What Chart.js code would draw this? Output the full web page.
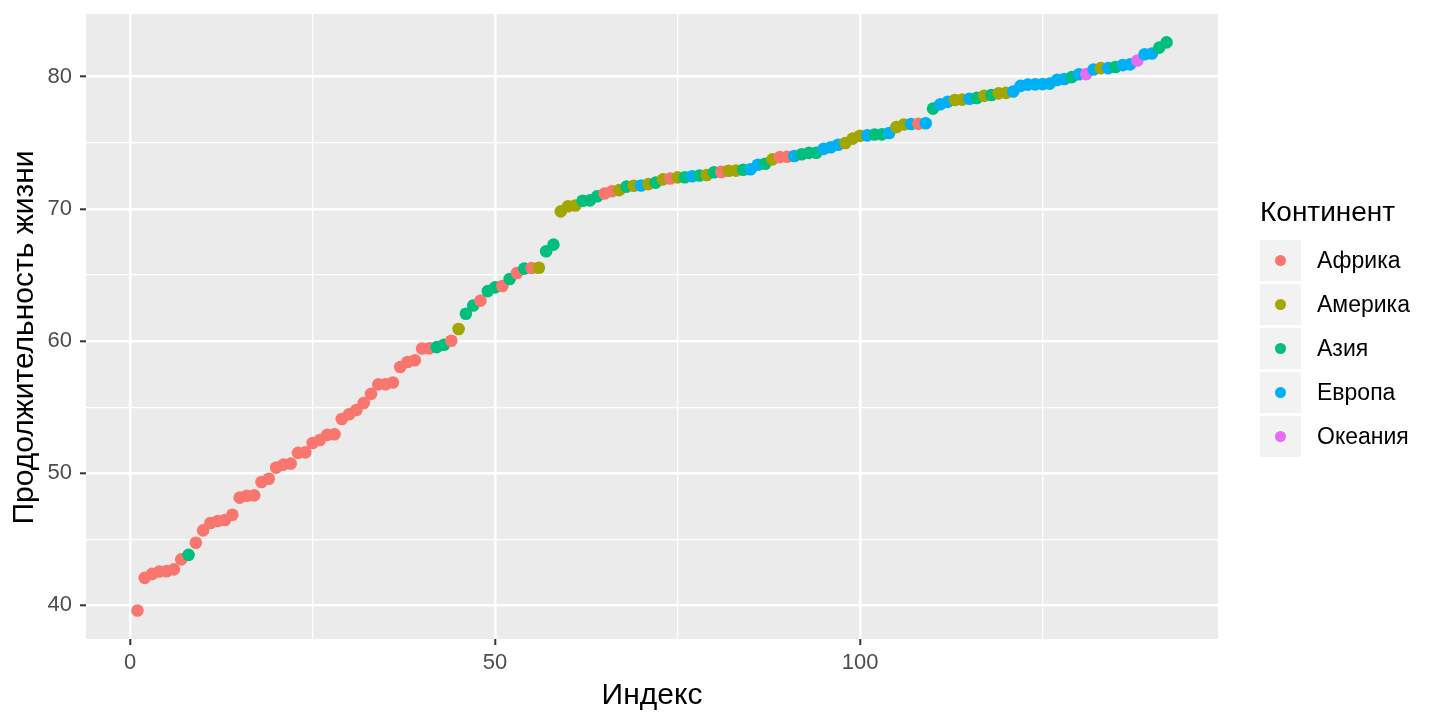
<!DOCTYPE html>
<html>
<head>
<meta charset="utf-8">
<script src="https://cdn.jsdelivr.net/npm/chart.js@4.4.0/dist/chart.umd.min.js"></script>
<style>
  body { margin: 0; background: #fff; font-family: "Liberation Sans", Arial, sans-serif; }
  #wrap { position: relative; width: 1440px; height: 720px; }
  #legend { position: absolute; left: 1260px; top: 192px; }
  #legend .title { font-size: 28px; color: #000; height: 46px; line-height: 40px; }
  #legend .item { display: flex; align-items: center; height: 44px; }
  #legend .key { width: 41px; height: 41px; background: #F2F2F2; display: flex; align-items: center; justify-content: center; margin-right: 16px; }
  #legend .dot { width: 11px; height: 11px; border-radius: 50%; }
  #legend .label { font-size: 23px; color: #000; }
</style>
</head>
<body>
<div id="wrap">
  <canvas id="lifeChart" width="1440" height="720"></canvas>
  <div id="legend"></div>
</div>
<script>
// gapminder 2007, sorted by life expectancy
const lifeExp = [
  39.613, 42.082, 42.384, 42.568, 42.592, 42.731, 43.487, 43.828, 44.741, 45.678,
  46.242, 46.388, 46.462, 46.859, 48.159, 48.303, 48.328, 49.339, 49.580, 50.430,
  50.651, 50.728, 51.542, 51.579, 52.295, 52.517, 52.906, 52.947, 54.110, 54.467,
  54.791, 55.322, 56.007, 56.728, 56.735, 56.867, 58.040, 58.420, 58.556, 59.443,
  59.448, 59.545, 59.723, 60.022, 60.916, 62.069, 62.698, 63.062, 63.785, 64.062,
  64.164, 64.698, 65.152, 65.483, 65.528, 65.554, 66.803, 67.297, 69.819, 70.198,
  70.259, 70.616, 70.650, 70.964, 71.164, 71.338, 71.421, 71.688, 71.752, 71.777,
  71.878, 71.993, 72.235, 72.301, 72.390, 72.396, 72.476, 72.535, 72.567, 72.777,
  72.801, 72.889, 72.899, 72.961, 73.005, 73.338, 73.422, 73.747, 73.923, 73.952,
  74.002, 74.143, 74.241, 74.249, 74.543, 74.663, 74.852, 74.994, 75.320, 75.537,
  75.563, 75.635, 75.640, 75.748, 76.195, 76.384, 76.423, 76.442, 76.486, 77.588,
  77.926, 78.098, 78.242, 78.273, 78.332, 78.400, 78.553, 78.623, 78.746, 78.782,
  78.885, 79.313, 79.406, 79.425, 79.441, 79.483, 79.762, 79.829, 79.972, 80.196,
  80.204, 80.546, 80.653, 80.657, 80.745, 80.884, 80.941, 81.235, 81.701, 81.757,
  82.208, 82.603
];

// continent of each point: 0 Африка, 1 Америка, 2 Азия, 3 Европа, 4 Океания
const continentIdx = [
  0, 0, 0, 0, 0, 0, 0, 2, 0, 0,
  0, 0, 0, 0, 0, 0, 0, 0, 0, 0,
  0, 0, 0, 0, 0, 0, 0, 0, 0, 0,
  0, 0, 0, 0, 0, 0, 0, 0, 0, 0,
  0, 2, 2, 0, 1, 2, 2, 0, 2, 2,
  0, 2, 0, 2, 0, 1, 2, 2, 1, 1,
  1, 2, 2, 2, 0, 0, 1, 2, 1, 3,
  1, 2, 1, 0, 1, 2, 3, 2, 1, 2,
  0, 1, 1, 2, 3, 3, 2, 1, 0, 0,
  3, 2, 2, 2, 3, 3, 3, 1, 1, 1,
  3, 2, 2, 3, 1, 1, 3, 0, 3, 2,
  3, 3, 1, 1, 3, 2, 1, 2, 1, 1,
  3, 3, 3, 3, 3, 3, 3, 3, 2, 3,
  4, 3, 1, 3, 2, 3, 3, 4, 3, 3,
  2, 2
];

const continents = ['Африка', 'Америка', 'Азия', 'Европа', 'Океания'];
const continentColors = ['#F8766D', '#A3A500', '#00BF7D', '#00B0F6', '#E76BF3'];

const xTicks = [0, 25, 50, 75, 100, 125];
const yTicks = [40, 45, 50, 55, 60, 65, 70, 75, 80];

const points = lifeExp.map((v, i) => ({ x: i + 1, y: v }));
const pointColors = continentIdx.map(c => continentColors[c]);

const fontFamily = '"Liberation Sans", Arial, sans-serif';

const panelBg = {
  id: 'panelBg',
  beforeDraw(chart) {
    const { ctx, chartArea: a } = chart;
    ctx.save();
    ctx.fillStyle = '#EBEBEB';
    ctx.fillRect(a.left, a.top, a.right - a.left, a.bottom - a.top);
    ctx.restore();
  }
};

// y axis title, drawn by hand so it can sit where ggplot put it
const yTitle = {
  id: 'yTitle',
  afterDraw(chart) {
    const ctx = chart.ctx;
    ctx.save();
    ctx.translate(33, 337.5);
    ctx.rotate(-Math.PI / 2);
    ctx.font = `30px ${fontFamily}`;
    ctx.fillStyle = '#000';
    ctx.textAlign = 'center';
    ctx.textBaseline = 'alphabetic';
    ctx.fillText('Продолжительность жизни', 0, 0);
    ctx.restore();
  }
};

function gridWidth(major) {
  return ctx => (ctx.tick && ctx.tick.value % major === 0) ? 2.6 : 1.3;
}
function tickColor(major) {
  return ctx => (ctx.tick && ctx.tick.value % major === 0) ? '#333333' : 'rgba(0,0,0,0)';
}

const tickFont = { family: fontFamily, size: 22 };
const titleFont = { family: fontFamily, size: 30 };

new Chart(document.getElementById('lifeChart'), {
  type: 'scatter',
  data: {
    datasets: [{
      label: 'Продолжительность жизни',
      data: points,
      pointRadius: 6.3,
      pointHoverRadius: 6.3,
      pointBorderWidth: 0,
      pointBackgroundColor: pointColors,
      pointBorderColor: pointColors
    }]
  },
  plugins: [panelBg, yTitle],
  options: {
    responsive: false,
    animation: false,
    layout: { padding: { top: 14, right: 222, bottom: 0, left: 0 } },
    plugins: {
      legend: { display: false },
      tooltip: { enabled: false }
    },
    scales: {
      x: {
        type: 'linear',
        min: -6.05,
        max: 149.05,
        afterBuildTicks: s => { s.ticks = xTicks.map(v => ({ value: v })); },
        afterFit: s => { s.height = 81; s.paddingLeft = 0; s.paddingRight = 0; },
        ticks: {
          font: tickFont,
          color: '#4D4D4D',
          padding: 5,
          maxRotation: 0,
          autoSkip: false,
          callback: v => (v % 50 === 0 ? v : '')
        },
        grid: {
          color: '#FFFFFF',
          lineWidth: gridWidth(50),
          tickColor: tickColor(50),
          tickWidth: 2,
          tickLength: 6
        },
        border: { display: false },
        title: {
          display: true,
          text: 'Индекс',
          color: '#000',
          font: titleFont,
          padding: { top: 0, bottom: 6 }
        }
      },
      y: {
        type: 'linear',
        min: 37.46,
        max: 84.75,
        afterBuildTicks: s => { s.ticks = yTicks.map(v => ({ value: v })); },
        afterFit: s => { s.width = 86; s.paddingTop = 0; s.paddingBottom = 0; },
        ticks: {
          font: tickFont,
          color: '#4D4D4D',
          padding: 8,
          autoSkip: false,
          callback: v => (v % 10 === 0 ? v : '')
        },
        grid: {
          color: '#FFFFFF',
          lineWidth: gridWidth(10),
          tickColor: tickColor(10),
          tickWidth: 2,
          tickLength: 6
        },
        border: { display: false }
      }
    }
  }
});

// legend
const legend = document.getElementById('legend');
legend.innerHTML = '<div class="title">Континент</div>' + continents.map((name, i) =>
  `<div class="item"><div class="key"><div class="dot" style="background:${continentColors[i]}"></div></div><div class="label">${name}</div></div>`
).join('');
</script>
</body>
</html>
